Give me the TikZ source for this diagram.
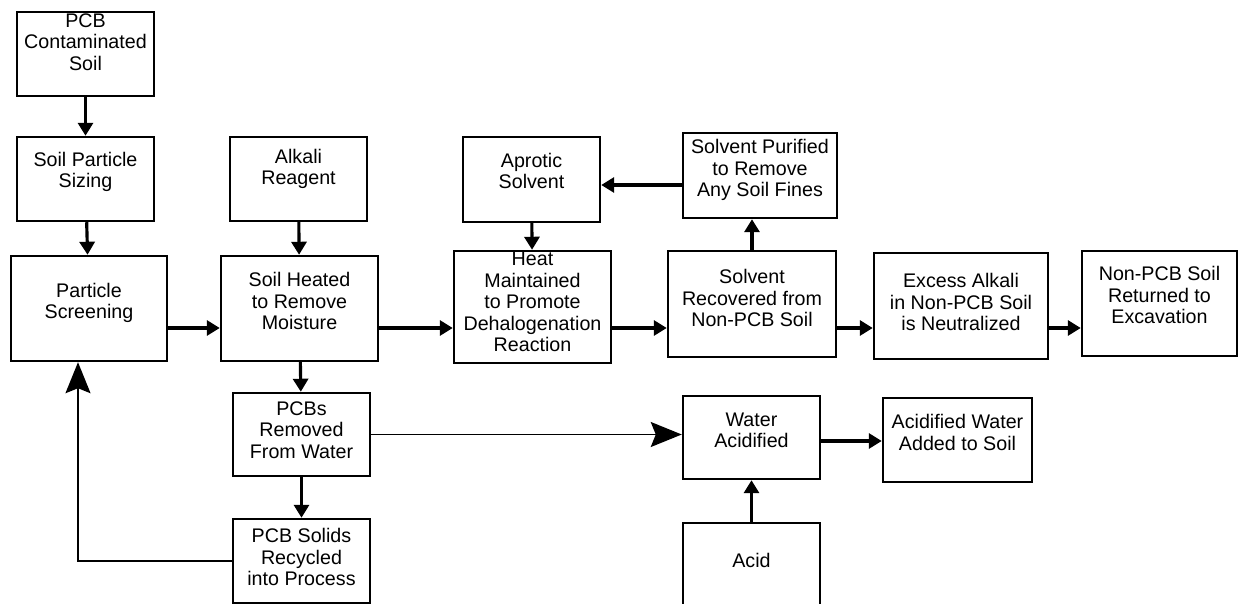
\documentclass[tikz,border=0pt]{standalone}
\usepackage{fontspec}
\setmainfont{Liberation Sans}
\usetikzlibrary{arrows.meta}

\tikzset{
  box/.style 2 args={draw, line width=1.4pt, inner sep=0pt,
    minimum width=#1*0.02cm, minimum height=#2*0.02cm},
  txt/.style={align=center, inner sep=0pt, font=\fontsize{11.2}{12.2}\selectfont},
  flow/.style={line width=1.8pt, -{Triangle[length=0.26cm,width=0.3cm]}},
  back/.style={line width=1pt, -{Stealth[length=0.62cm,width=0.5cm,inset=0.1cm]}}
}

\begin{document}
\begin{tikzpicture}[x=0.02cm, y=-0.02cm]
    \useasboundingbox (0,0) rectangle (1238,604);

    % Draw the boxes
    \node[box={137}{84}] (cont) at (85.5,54) {};
    \node[box={137}{84}] (sizing) at (85.5,179) {};
    \node[box={156}{105}] (screen) at (89,308.5) {};
    \node[box={137}{84}] (alkali) at (298.5,179) {};
    \node[box={157}{105}] (heated) at (299.5,308.5) {};
    \node[box={137}{83}] (removed) at (301.5,434.5) {};
    \node[box={137}{84}] (solids) at (301.5,561) {};
    \node[box={137}{85}] (aprotic) at (531.5,179.5) {};
    \node[box={157}{112}] (heat) at (532.5,307) {};
    \node[box={154}{85}] (purified) at (760,175.5) {};
    \node[box={168}{106}] (recovered) at (752,304) {};
    \node[box={174}{106}] (excess) at (961,306) {};
    \node[box={155}{105}] (returned) at (1159.5,303.5) {};
    \node[box={137}{83}] (acidify) at (751.5,437.5) {};
    \node[box={149}{84}] (added) at (957.5,440) {};
    \node[box={137}{102}] (acid) at (751.5,574) {};

    % Texts in the boxes
    \node[txt] (cont-t) at (85.5,42) {PCB\\Contaminated\\Soil};
    \node[txt] (sizing-t) at (85.5,172) {Soil Particle\\Sizing};
    \node[txt] (screen-t) at (89,303) {Particle\\Screening};
    \node[txt] (alkali-t) at (298.5,169) {Alkali\\Reagent};
    \node[txt] (heated-t) at (299.5,301) {Soil Heated\\to Remove\\Moisture};
    \node[txt] (removed-t) at (301.5,430) {PCBs\\Removed\\From Water};
    \node[txt] (solids-t) at (301.5,557) {PCB Solids\\Recycled\\into Process};
    \node[txt] (aprotic-t) at (531.5,171) {Aprotic\\Solvent};
    \node[txt] (heat-t) at (532.5,302) {Heat\\Maintained\\to Promote\\Dehalogenation\\Reaction};
    \node[txt] (purified-t) at (760,170) {Solvent Purified\\to Remove\\Any Soil Fines};
    \node[txt] (recovered-t) at (752,298) {Solvent\\Recovered from\\Non-PCB Soil};
    \node[txt] (excess-t) at (961,302) {Excess Alkali\\in Non-PCB Soil\\is Neutralized};
    \node[txt] (returned-t) at (1159.5,295) {Non-PCB Soil\\Returned to\\Excavation};
    \node[txt] (acidify-t) at (751.5,430.5) {Water\\Acidified};
    \node[txt] (added-t) at (957.5,432.5) {Acidified Water\\Added to Soil};
    \node[txt] (acid-t) at (751.5,560) {Acid};

    % Rows of the horizontal arrows
    \coordinate (mainrow) at (0,328);
    \coordinate (fines) at (0,185);
    \coordinate (waterrow) at (0,441);

    % Arrows
    \draw[flow] (cont) -- (sizing);
    \draw[flow] (sizing) -- (screen);
    \draw[flow] (alkali) -- (heated);
    \draw[flow] (aprotic) -- (heat);
    \draw[flow] (screen.east |- mainrow) -- (heated.west |- mainrow);
    \draw[flow] (heated.east |- mainrow) -- (heat.west |- mainrow);
    \draw[flow] (heat.east |- mainrow) -- (recovered.west |- mainrow);
    \draw[flow] (recovered.east |- mainrow) -- (excess.west |- mainrow);
    \draw[flow] (excess.east |- mainrow) -- (returned.west |- mainrow);
    \draw[flow] (recovered.north) -- (recovered.north |- purified.south);
    \draw[flow] (purified.west |- fines) -- (aprotic.east |- fines);
    \draw[flow] (heated) -- (removed);
    \draw[flow] (removed) -- (solids);
    \draw[flow] (acid) -- (acidify);
    \draw[flow] (acidify.east |- waterrow) -- (added.west |- waterrow);
    \draw[back] (removed.east) -- (removed.east -| acidify.west);
    \draw[back] (solids.west) -| ([xshift=-0.22cm]screen.south);

\end{tikzpicture}
\end{document}
